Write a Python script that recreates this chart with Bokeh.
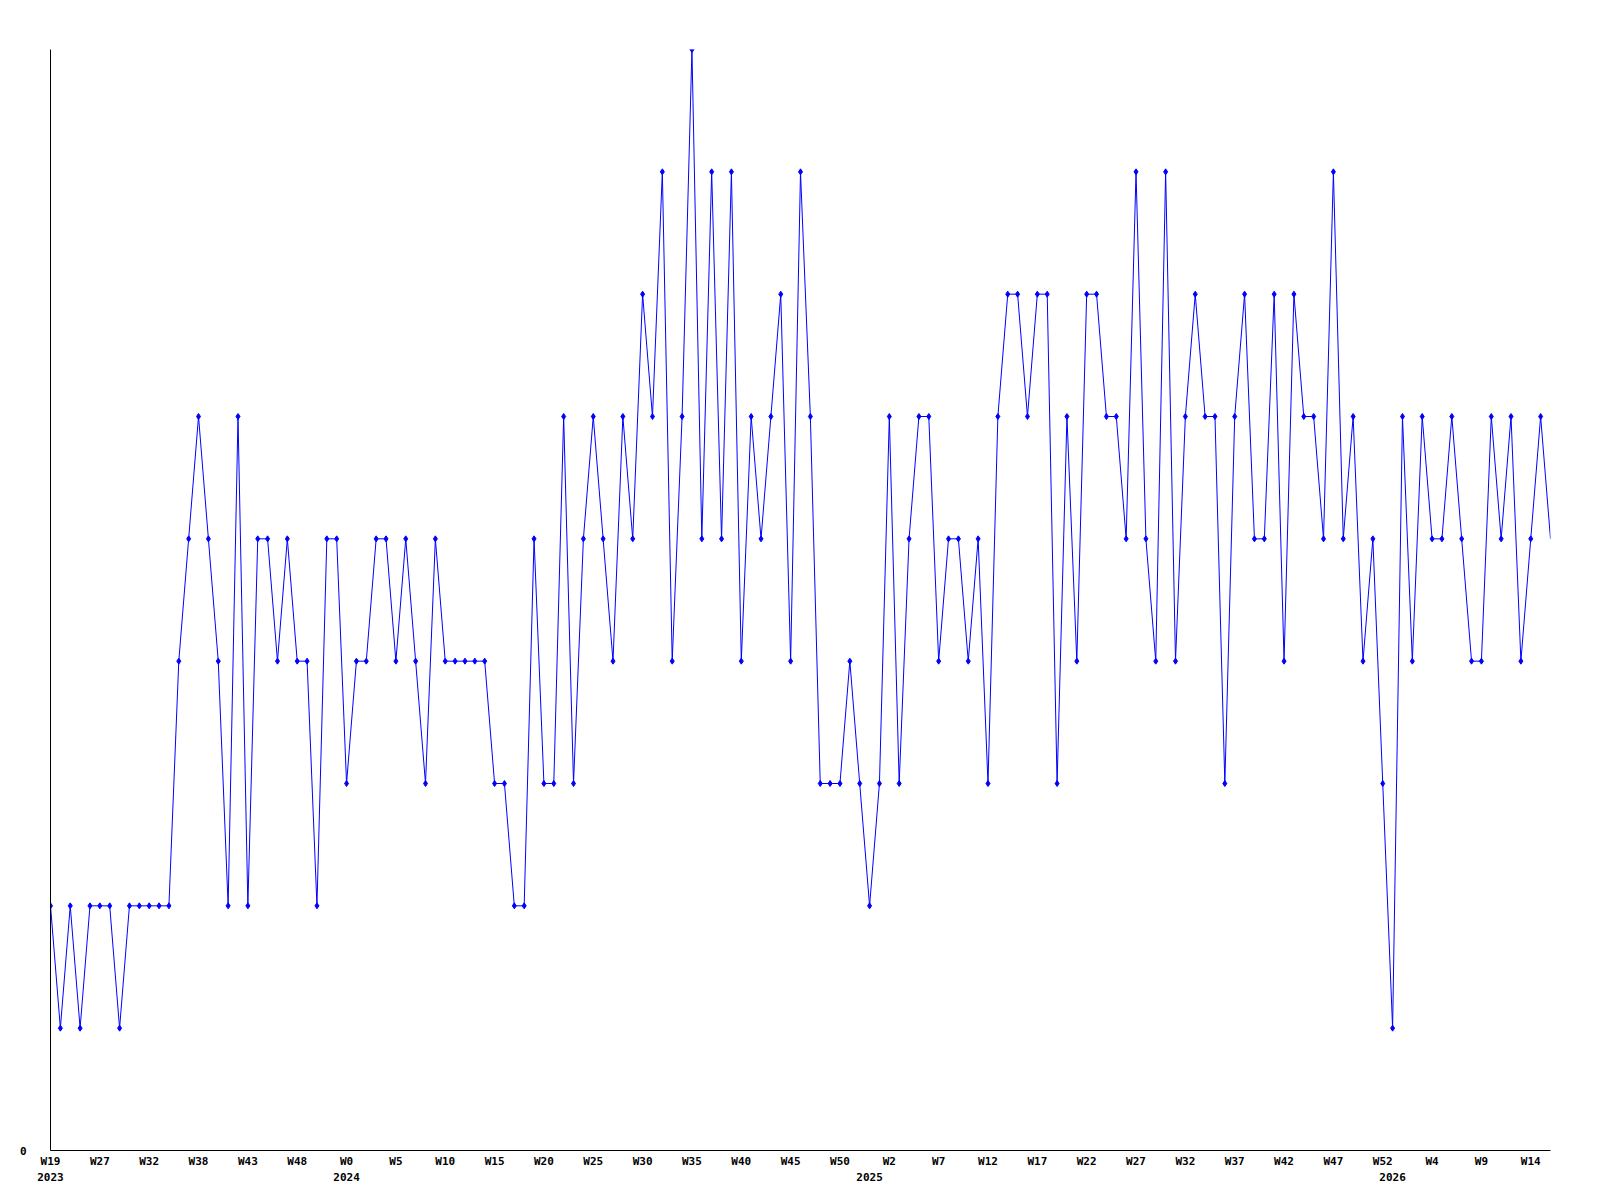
from bokeh.plotting import figure
from bokeh.models import FixedTicker, LinearAxis, Range1d
from bokeh.embed import file_html
from bokeh.resources import INLINE

# weekly values, 2023 W19 .. 2026 (last week still open, drawn without a marker)
values = [
    2, 1, 2, 1, 2, 2, 2, 1, 2, 2,
    2, 2, 2, 4, 5, 6, 5, 4, 2, 6,
    2, 5, 5, 4, 5, 4, 4, 2, 5, 5,
    3, 4, 4, 5, 5, 4, 5, 4, 3, 5,
    4, 4, 4, 4, 4, 3, 3, 2, 2, 5,
    3, 3, 6, 3, 5, 6, 5, 4, 6, 5,
    7, 6, 8, 4, 6, 9, 5, 8, 5, 8,
    4, 6, 5, 6, 7, 4, 8, 6, 3, 3,
    3, 4, 3, 2, 3, 6, 3, 5, 6, 6,
    4, 5, 5, 4, 5, 3, 6, 7, 7, 6,
    7, 7, 3, 6, 4, 7, 7, 6, 6, 5,
    8, 5, 4, 8, 4, 6, 7, 6, 6, 3,
    6, 7, 5, 5, 7, 4, 7, 6, 6, 5,
    8, 5, 6, 4, 5, 3, 1, 6, 4, 6,
    5, 5, 6, 5, 4, 4, 6, 5, 6, 4,
    5, 6, 5,
]

week_labels = ["W19", "W27", "W32", "W38", "W43", "W48", "W0", "W5", "W10", "W15",
               "W20", "W25", "W30", "W35", "W40", "W45", "W50", "W2", "W7", "W12",
               "W17", "W22", "W27", "W32", "W37", "W42", "W47", "W52", "W4", "W9", "W14"]
tick_step = 5
years = ["2023", "2024", "2025", "2026"]
year_start_index = [0, 30, 83, 136]

x = list(range(len(values)))
week_ticks = [i * tick_step for i in range(len(week_labels))]

FONT = "DejaVu Sans Mono"

p = figure(frame_width=1500, frame_height=1101,
           min_border_left=50, min_border_right=40,
           min_border_top=49, min_border_bottom=42,
           x_range=Range1d(0, len(values) - 1),
           y_range=Range1d(0, max(values)),
           output_backend="svg", toolbar_location=None)
p.xgrid.visible = False
p.ygrid.visible = False
p.outline_line_color = None
p.background_fill_color = "white"
p.border_fill_color = "white"

p.line(x, values, line_color="#0000ff", line_width=1)
p.scatter(x[:-1], values[:-1], marker="diamond", size=6,
          fill_color="#0000ff", line_color="#0000ff")


def style_axis(ax):
    ax.major_tick_out = 0
    ax.major_tick_in = 0
    ax.minor_tick_out = 0
    ax.minor_tick_in = 0
    ax.major_label_text_font = FONT
    ax.major_label_text_font_style = "bold"
    ax.major_label_text_font_size = "11px"
    ax.major_label_text_color = "black"
    ax.axis_line_color = "black"
    ax.axis_line_width = 1


xa = p.xaxis[0]
xa.ticker = FixedTicker(ticks=week_ticks)
xa.major_label_overrides = {t: lab for t, lab in zip(week_ticks, week_labels)}
style_axis(xa)
xa.major_label_standoff = 4

ya = p.yaxis[0]
ya.ticker = FixedTicker(ticks=[0])
ya.major_label_overrides = {0: "0"}
style_axis(ya)
ya.major_label_standoff = 24

year_axis = LinearAxis(ticker=FixedTicker(ticks=year_start_index),
                       major_label_overrides={t: y for t, y in zip(year_start_index, years)})
style_axis(year_axis)
year_axis.axis_line_color = None
year_axis.major_label_standoff = 2
p.add_layout(year_axis, "below")

open("out.html", "w").write(file_html(p, INLINE))
